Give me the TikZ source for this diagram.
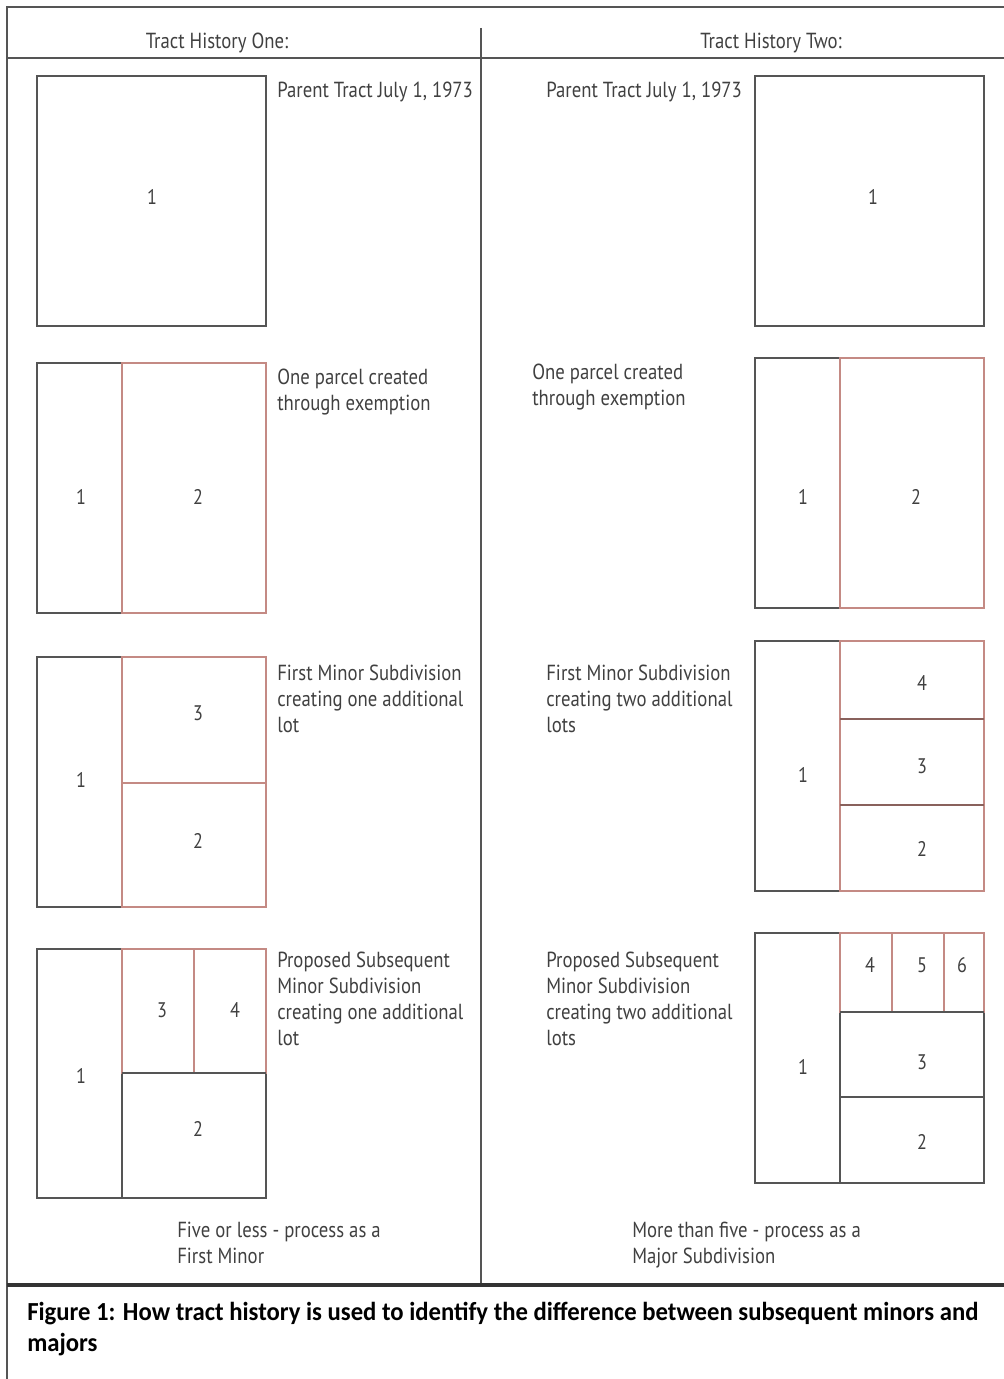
\documentclass[tikz,border=0pt]{standalone}
\usepackage{fontspec}
\setmainfont[FakeStretch=0.86]{PT Sans}
\newfontfamily\capfont[FakeStretch=0.95]{Carlito}
\usepackage{xcolor}
\definecolor{lotline}{HTML}{555555}
\definecolor{newlot}{HTML}{C48A84}
\definecolor{inktext}{HTML}{404040}

\tikzset{
  tractline/.style={line width=1.3pt, draw=lotline},
  newline/.style={line width=0.9pt, draw=newlot},
  lotnum/.style={font=\fontsize{15}{18}\selectfont, text=inktext, inner sep=0pt},
  note/.style={font=\fontsize{15.5}{18.5}\selectfont, text=inktext, align=left, anchor=north west, inner sep=0pt}
}

\begin{document}
\begin{tikzpicture}[x=0.025cm, y=-0.025cm]
    \useasboundingbox (0,0) rectangle (1004,1379);
    % Frame
    \draw[line width=1.4pt, lotline] (7,1379) -- (7,7) -- (1004,7);
    \draw[line width=1pt, lotline] (7,58) -- (1004,58);
    \draw[line width=1pt, lotline] (481,28) -- (481,1283);
    \draw[line width=2.2pt, black!80] (7,1285) -- (1004,1285);
    \node[font=\fontsize{15.5}{18}\selectfont, text=inktext] (headone) at (217,43) {Tract History One:};
    \node[font=\fontsize{15.5}{18}\selectfont, text=inktext] (headtwo) at (771,43) {Tract History Two:};

    % Tract One, parent
    \draw[tractline] (37,76) rectangle (266,326);
    \node[lotnum] (a1one) at (152,197) {1};
    \node[note] (a1text) at (277,82) {Parent Tract July 1, 1973};

    % Tract One, exemption
    \draw[tractline] (37,363) rectangle (122,613);
    \draw[newline] (122,363) rectangle (266,613);
    \node[lotnum] (a2one) at (81,497) {1};
    \node[lotnum] (a2two) at (198,497) {2};
    \node[note] (a2text) at (277,369) {One parcel created\\through exemption};

    % Tract One, first minor
    \draw[tractline] (37,657) rectangle (122,907);
    \draw[newline] (122,657) rectangle (266,907);
    \draw[newline] (122,783) -- (266,783);
    \node[lotnum] (a3three) at (198,713) {3};
    \node[lotnum] (a3one) at (81,780) {1};
    \node[lotnum] (a3two) at (198,841) {2};
    \node[note] (a3text) at (277,665) {First Minor Subdivision\\creating one additional\\lot};

    % Tract One, subsequent minor
    \draw[tractline] (37,949) rectangle (266,1198);
    \draw[tractline] (122,949) -- (122,1198);
    \draw[newline] (122,949) rectangle (266,1073);
    \draw[newline] (194,949) -- (194,1073);
    \draw[tractline] (122,1073) -- (266,1073);
    \node[lotnum] (a4three) at (162,1010) {3};
    \node[lotnum] (a4four) at (235,1010) {4};
    \node[lotnum] (a4one) at (81,1076) {1};
    \node[lotnum] (a4two) at (198,1129) {2};
    \node[note] (a4text) at (277,952) {Proposed Subsequent\\Minor Subdivision\\creating one additional\\lot};
    \node[note] (a5text) at (177,1222) {Five or less - process as a\\First Minor};

    % Tract Two, parent
    \draw[tractline] (755,76) rectangle (984,326);
    \node[lotnum] (b1one) at (873,197) {1};
    \node[note] (b1text) at (546,82) {Parent Tract July 1, 1973};

    % Tract Two, exemption
    \draw[tractline] (755,358) rectangle (840,608);
    \draw[newline] (840,358) rectangle (984,608);
    \node[lotnum] (b2one) at (803,497) {1};
    \node[lotnum] (b2two) at (916,497) {2};
    \node[note] (b2text) at (532,364) {One parcel created\\through exemption};

    % Tract Two, first minor
    \draw[tractline] (755,641) rectangle (840,891);
    \draw[newline] (840,641) rectangle (984,891);
    \draw[newline, draw=newlot!70!black] (840,719) -- (984,719);
    \draw[newline, draw=newlot!70!black] (840,805) -- (984,805);
    \node[lotnum] (b3four) at (922,683) {4};
    \node[lotnum] (b3three) at (922,766) {3};
    \node[lotnum] (b3two) at (922,849) {2};
    \node[lotnum] (b3one) at (803,775) {1};
    \node[note] (b3text) at (546,665) {First Minor Subdivision\\creating two additional\\lots};

    % Tract Two, subsequent minor
    \draw[tractline] (755,933) rectangle (984,1183);
    \draw[tractline] (840,933) -- (840,1183);
    \draw[newline] (840,933) rectangle (984,1012);
    \draw[newline] (892,933) -- (892,1012);
    \draw[newline] (944,933) -- (944,1012);
    \draw[tractline] (840,1012) -- (984,1012);
    \draw[tractline] (840,1097) -- (984,1097);
    \node[lotnum] (b4four) at (870,965) {4};
    \node[lotnum] (b4five) at (922,965) {5};
    \node[lotnum] (b4six) at (962,965) {6};
    \node[lotnum] (b4three) at (922,1062) {3};
    \node[lotnum] (b4two) at (922,1142) {2};
    \node[lotnum] (b4one) at (803,1067) {1};
    \node[note] (b4text) at (546,952) {Proposed Subsequent\\Minor Subdivision\\creating two additional\\lots};
    \node[note] (b5text) at (632,1222) {More than five - process as a\\Major Subdivision};

    % Caption
    \node[anchor=north west, inner sep=0pt, align=left, font=\capfont\bfseries\fontsize{18.5}{22}\selectfont] (caption) at (27,1302)
      {Figure 1: How tract history is used to identify the difference between subsequent minors and\\majors};
\end{tikzpicture}
\end{document}
